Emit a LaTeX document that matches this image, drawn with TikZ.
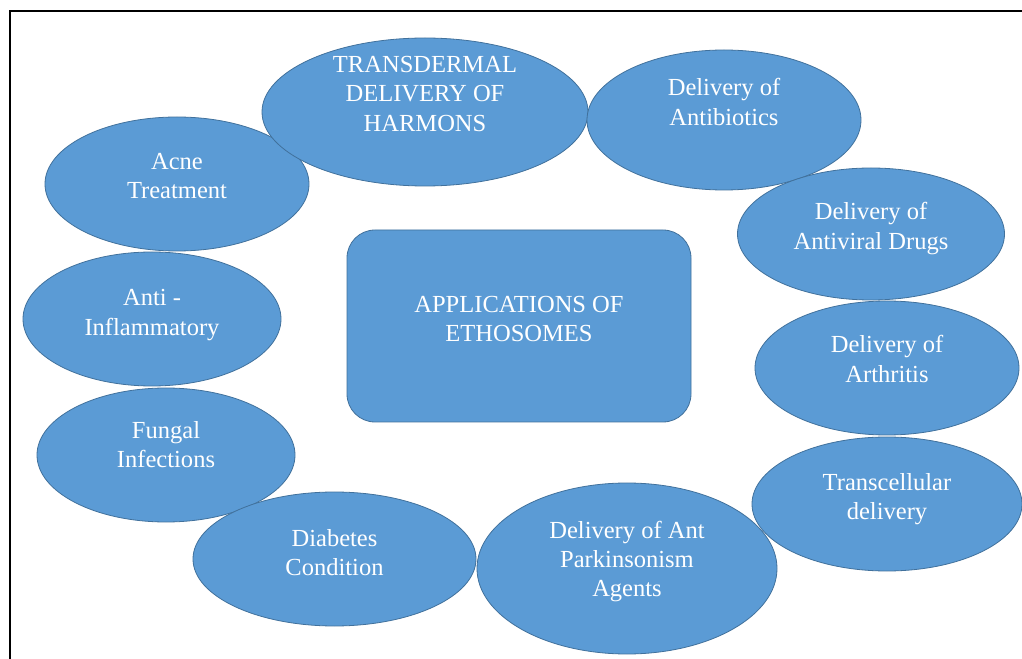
\documentclass[tikz,border=0pt]{standalone}
\usepackage{fontspec}
\setmainfont{Liberation Serif}
\usetikzlibrary{shapes.geometric,calc}
\definecolor{bubblefill}{HTML}{5B9BD5}
\definecolor{bubbleedge}{HTML}{41719C}
\begin{document}
\begin{tikzpicture}[x=0.75pt,y=-0.75pt,
  bubble/.style 2 args={ellipse, draw=bubbleedge, fill=bubblefill, line width=0.6pt,
    inner sep=0pt, outer sep=0pt, minimum width=#1*0.75pt, minimum height=#2*0.75pt},
  hub/.style={rectangle, rounded corners=21pt, draw=bubbleedge, fill=bubblefill, line width=0.6pt,
    inner sep=0pt, minimum width=344*0.75pt, minimum height=192*0.75pt},
  lbl/.style={text=white, align=center, inner sep=0pt,
    font=\fontsize{18.4pt}{21.8pt}\selectfont}]
\useasboundingbox (0,0) rectangle (1022,659);
\fill[white] (0,0) rectangle (1022,659);

% page frame
\draw[line width=1.5pt] (9.5,700) -- (9.5,11.5) -- (1040,11.5);

% central box
\node[hub] (hubbox) at (519,326) {};
\node[lbl] (hubtext) at ($(hubbox)+(0,-7)$) {APPLICATIONS OF\\ETHOSOMES};

% surrounding applications
\node[bubble={264}{134}] (acne) at (177,184) {};
\node[lbl] (acnetext) at ($(acne)+(0,-8)$) {Acne\\Treatment};

\node[bubble={326}{148}] (trans) at (425,112) {};
\node[lbl] (transtext) at ($(trans)+(0,-18)$) {TRANSDERMAL\\DELIVERY OF\\HARMONS};

\node[bubble={274}{140}] (antib) at (724,120) {};
\node[lbl] (antibtext) at ($(antib)+(0,-18)$) {Delivery of\\Antibiotics};

\node[bubble={267}{132}] (antiv) at (871,234) {};
\node[lbl] (antivtext) at ($(antiv)+(0,-5.5)$) {Delivery of\\Antiviral Drugs};

\node[bubble={264}{134}] (arth) at (887,368) {};
\node[lbl] (arthtext) at ($(arth)+(0,-9)$) {Delivery of\\Arthritis};

\node[bubble={270}{134}] (transc) at (887,504) {};
\node[lbl] (transctext) at ($(transc)+(0,-5)$) {Transcellular\\delivery};

\node[bubble={258}{134}] (antiinf) at (152,319) {};
\node[lbl] (antiinftext) at ($(antiinf)+(0,-4)$) {Anti -\\Inflammatory};

\node[bubble={258}{134}] (fungal) at (166,455) {};
\node[lbl] (fungaltext) at ($(fungal)+(0,-10)$) {Fungal\\Infections};

\node[bubble={283}{134}] (diab) at (334.5,559) {};
\node[lbl] (diabtext) at ($(diab)+(0,-6)$) {Diabetes\\Condition};

\node[bubble={300}{171}] (park) at (627,568.5) {};
\node[lbl] (parktext) at ($(park)+(0,-7)$) {Delivery of Ant\\Parkinsonism\\Agents};
\end{tikzpicture}
\end{document}
